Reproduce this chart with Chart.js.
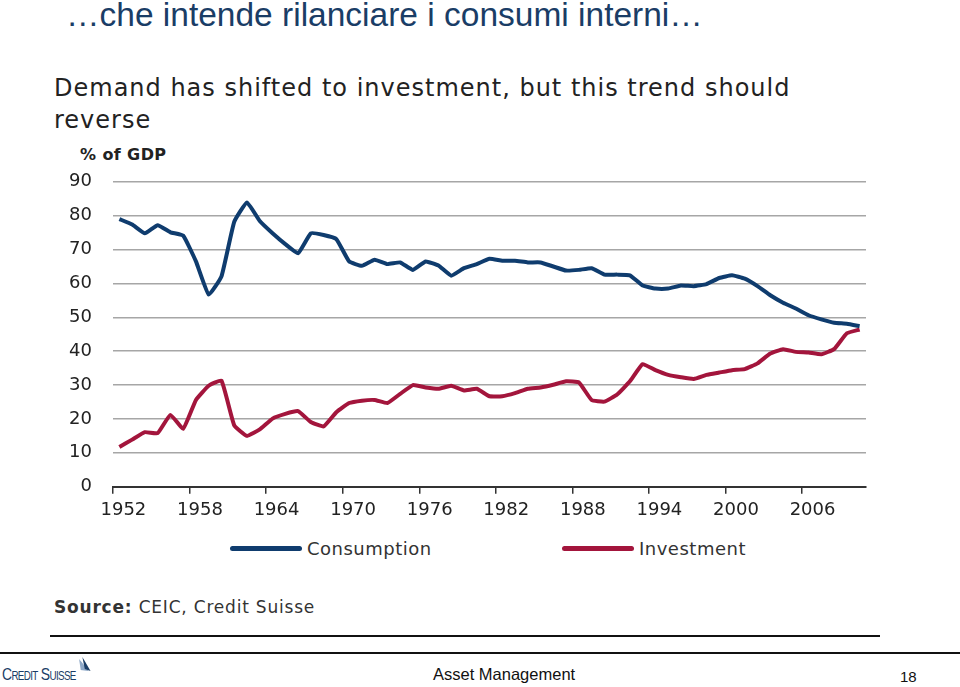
<!DOCTYPE html>
<html>
<head>
<meta charset="utf-8">
<script src="https://cdn.jsdelivr.net/npm/chart.js@4.4.0/dist/chart.umd.min.js"></script>
<style>
  html, body { margin: 0; padding: 0; background: #fff; }
  body { width: 960px; height: 687px; position: relative; overflow: hidden; font-family: "DejaVu Sans", sans-serif; }
  .abs { position: absolute; white-space: nowrap; }
  #pageTitle { left: 66px; top: -4px; font: 33.5px "Liberation Sans", Arial, sans-serif; color: #1a3d66; }
  #chartTitle { left: 54px; top: 72px; font-size: 24px; letter-spacing: 1px; line-height: 32px; color: #222; }
  #unit { left: 80px; top: 145px; font-size: 16px; letter-spacing: 0.4px; font-weight: bold; color: #222; }
  #chartWrap { left: 0; top: 150px; width: 880px; height: 380px; }
  .legendItem { top: 538px; font-size: 18px; letter-spacing: 0.5px; color: #333; }
  .legendItem span { display: inline-block; width: 72px; height: 5px; border-radius: 3px; vertical-align: middle; margin-right: 5px; position: relative; top: -2px; }
  #source { left: 54px; top: 597px; font-size: 17px; letter-spacing: 0.8px; color: #333; }
  #rule1 { left: 50px; top: 635px; width: 830px; height: 1.5px; background: #111; }
  #rule2 { left: 0; top: 652px; width: 960px; height: 2px; background: #111; }
  #logo { left: 2px; top: 664px; font: 17px "Liberation Sans", Arial, sans-serif; font-variant: small-caps; color: #1a3d66; letter-spacing: -0.8px; transform: scaleX(0.82); transform-origin: left top; }
  #footer { left: 433px; top: 665px; font: 16.5px "Liberation Sans", Arial, sans-serif; color: #111; }
  #pageNum { left: 900px; top: 668px; font: 15px "Liberation Sans", Arial, sans-serif; color: #111; }
</style>
</head>
<body>
<div class="abs" id="pageTitle">…che intende rilanciare i consumi interni…</div>
<div class="abs" id="chartTitle">Demand has shifted to investment, but this trend should<br>reverse</div>
<div class="abs" id="unit">% of GDP</div>
<div class="abs" id="chartWrap"><canvas id="chart"></canvas></div>
<div class="abs legendItem" style="left:230px"><span style="background:#0f3c6e"></span>Consumption</div>
<div class="abs legendItem" style="left:562px"><span style="background:#a3153c"></span>Investment</div>
<div class="abs" id="source"><b>Source:</b> CEIC, Credit Suisse</div>
<div class="abs" id="rule1"></div>
<div class="abs" id="rule2"></div>
<div class="abs" id="logo">Credit Suisse<svg width="18" height="16" viewBox="0 0 16 16" style="position:relative;top:-7px;left:1px">
    <path d="M2 2 L14 14 L4 13 Z" fill="#8fa9c8"/>
    <path d="M6 0 L16 14 L9 12 Z" fill="#1a3d66"/>
  </svg></div>
<div class="abs" id="footer">Asset Management</div>
<div class="abs" id="pageNum">18</div>

<script>
const years = [];
for (let y = 1952; y <= 2010; y++) years.push(String(y));

const consumption = [
  79.0, 77.4, 74.8, 77.2, 75.1, 74.1, 66.5, 56.7, 62.1, 78.2,
  83.9, 78.4, 74.8, 71.6, 68.9, 74.8, 74.3, 73.1, 66.5, 65.2,
  67.0, 65.7, 66.2, 64.0, 66.5, 65.3, 62.3, 64.5, 65.7, 67.3,
  66.7, 66.7, 66.2, 66.2, 65.0, 63.8, 64.0, 64.5, 62.6, 62.6,
  62.4, 59.4, 58.5, 58.5, 59.4, 59.2, 59.8, 61.6, 62.4, 61.4,
  59.2, 56.5, 54.3, 52.6, 50.6, 49.4, 48.4, 48.1, 47.4
];

const investment = [
  11.7, 13.9, 16.1, 15.8, 21.2, 17.1, 25.6, 29.8, 31.3, 18.1,
  15.0, 16.9, 20.1, 21.5, 22.3, 19.1, 17.8, 22.0, 24.7, 25.4,
  25.6, 24.7, 27.4, 30.0, 29.3, 28.9, 29.8, 28.4, 28.9, 26.7,
  26.7, 27.6, 28.9, 29.3, 30.1, 31.1, 30.8, 25.6, 25.1, 27.2,
  31.1, 36.2, 34.4, 33.0, 32.3, 31.8, 33.0, 33.7, 34.4, 34.7,
  36.4, 39.3, 40.6, 39.8, 39.6, 39.1, 40.6, 45.3, 46.4
];

const yTicks = [0, 10, 20, 30, 40, 50, 60, 70, 80, 90];
const labelEvery = 6;

const tickFont = { family: 'DejaVu Sans', size: 18 };

new Chart(document.getElementById('chart'), {
  type: 'line',
  data: {
    labels: years,
    datasets: [
      {
        label: 'Consumption',
        data: consumption,
        borderColor: '#0f3c6e',
        borderWidth: 4,
        pointRadius: 0,
        tension: 0.12,
        fill: false
      },
      {
        label: 'Investment',
        data: investment,
        borderColor: '#a3153c',
        borderWidth: 4,
        pointRadius: 0,
        tension: 0.12,
        fill: false
      }
    ]
  },
  options: {
    responsive: true,
    maintainAspectRatio: false,
    animation: false,
    layout: { padding: { top: 10, right: 14, left: 0, bottom: 0 } },
    plugins: {
      legend: { display: false },
      tooltip: { enabled: false }
    },
    scales: {
      x: {
        type: 'category',
        offset: true,
        afterFit: (scale) => { scale.height = 43.3; },
        grid: {
          offset: true,
          drawOnChartArea: false,
          tickLength: 7,
          lineWidth: 1.5,
          color: (ctx) => (ctx.index % labelEvery === 0 ? '#333' : 'rgba(0,0,0,0)')
        },
        border: { display: true, color: '#333', width: 2 },
        ticks: {
          autoSkip: false,
          maxRotation: 0,
          minRotation: 0,
          padding: 6,
          labelOffset: 4,
          color: '#222',
          font: tickFont,
          callback: (value, index) => (index % labelEvery === 0 ? years[index] : '')
        }
      },
      y: {
        min: 0,
        max: 90,
        afterFit: (scale) => { scale.width = 113; },
        afterBuildTicks: (scale) => { scale.ticks = yTicks.map(v => ({ value: v })); },
        grid: {
          drawTicks: false,
          color: '#a6a6a6',
          lineWidth: 1.5
        },
        border: { display: false },
        ticks: {
          padding: 21,
          color: '#222',
          font: tickFont
        }
      }
    }
  }
});
</script>
</body>
</html>
